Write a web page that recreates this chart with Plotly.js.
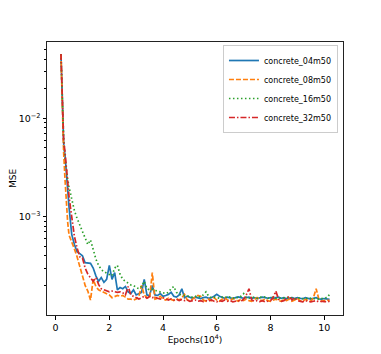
<!DOCTYPE html>
<html>
<head>
<meta charset="utf-8">
<script src="https://cdn.plot.ly/plotly-3.0.1.min.js"></script>
<style>
  html, body { margin: 0; padding: 0; background: #fff; }
  #chart { width: 381px; height: 354px; }
</style>
</head>
<body>
<div id="chart"></div>
<script>
// epochs in units of 10^4
let epochs = [0.2, 0.22, 0.25, 0.3, 0.35, 0.4, 0.45, 0.5,
  0.6, 0.7, 0.8, 0.9, 1.0,
  1.1, 1.2, 1.3, 1.4, 1.5, 1.6, 1.7, 1.8, 1.9, 2.0,
  2.1, 2.2, 2.3, 2.4, 2.5, 2.6, 2.7, 2.8, 2.9, 3.0,
  3.1, 3.2, 3.3, 3.4, 3.5, 3.6, 3.7, 3.8, 3.9, 4.0,
  4.1, 4.2, 4.3, 4.4, 4.5, 4.6, 4.7, 4.8, 4.9, 5.0,
  5.1, 5.2, 5.3, 5.4, 5.5, 5.6, 5.7, 5.8, 5.9, 6.0,
  6.1, 6.2, 6.3, 6.4, 6.5, 6.6, 6.7, 6.8, 6.9, 7.0,
  7.1, 7.2, 7.3, 7.4, 7.5, 7.6, 7.7, 7.8, 7.9, 8.0,
  8.1, 8.2, 8.3, 8.4, 8.5, 8.6, 8.7, 8.8, 8.9, 9.0,
  9.1, 9.2, 9.3, 9.4, 9.5, 9.6, 9.7, 9.8, 9.9, 10.0,
  10.1, 10.2];

// MSE values, in units of 1e-4
let mse04 = [450, 260, 115, 55, 42, 30, 19, 12.5,
  6.6, 5.2, 4.4, 4.2, 4.0,
  3.4, 3.4, 3.35, 3.0, 2.5, 2.2, 2.4, 2.15, 2.3, 3.2,
  2.3, 2.7, 1.8, 1.9, 1.85, 1.95, 1.72, 1.65, 1.8, 1.6,
  1.65, 1.7, 2.3, 1.6, 1.58, 2.0, 1.6, 1.58, 1.65, 1.55,
  1.58, 1.62, 1.7, 1.55, 1.52, 1.6, 1.85, 1.5, 1.55, 1.5,
  1.48, 1.52, 1.5, 1.47, 1.5, 1.52, 1.48, 1.5, 1.55, 1.62,
  1.55, 1.5, 1.48, 1.52, 1.5, 1.47, 1.5, 1.53, 1.5, 1.48,
  1.5, 1.52, 1.48, 1.5, 1.47, 1.5, 1.52, 1.5, 1.48, 1.5,
  1.47, 1.5, 1.52, 1.48, 1.5, 1.46, 1.49, 1.5, 1.47, 1.5,
  1.48, 1.46, 1.5, 1.48, 1.45, 1.48, 1.5, 1.46, 1.45, 1.47,
  1.45, 1.44];

let mse08 = [450, 250, 105, 45, 24, 13, 8.8, 6.5,
  5.6, 4.7, 3.9, 3.1, 2.5,
  2.0, 1.75, 1.42, 2.3, 1.95, 1.8, 1.75, 1.72, 1.65, 1.6,
  1.5, 1.55, 1.58, 1.55, 1.58, 1.52, 1.45, 1.45, 1.42, 1.45,
  1.55, 2.0, 1.6, 1.5, 1.48, 2.7, 1.45, 1.48, 1.55, 1.45,
  1.42, 1.48, 1.45, 1.4, 1.46, 1.42, 1.5, 1.62, 1.42, 1.4,
  1.45, 1.5, 1.58, 1.55, 1.42, 1.38, 1.45, 1.4, 1.5, 1.42,
  1.38, 1.45, 1.5, 1.42, 1.4, 1.48, 1.42, 1.38, 1.45, 1.4,
  1.45, 1.4, 1.38, 1.44, 1.5, 1.42, 1.4, 1.46, 1.4, 1.38,
  1.42, 1.45, 1.4, 1.38, 1.44, 1.4, 1.45, 1.38, 1.42, 1.48,
  1.4, 1.38, 1.44, 1.4, 1.38, 1.5, 1.85, 1.45, 1.38, 1.4,
  1.42, 1.4];

let mse16 = [450, 270, 125, 62, 40, 30, 24, 20,
  14.5, 11.5, 9.6, 8.2, 7.0,
  5.9, 5.2, 5.8, 4.7, 3.7, 3.2, 2.9, 2.75, 2.65, 2.55,
  2.5, 3.0, 3.2, 2.6, 2.3, 2.2, 2.1, 2.02, 2.0, 1.9,
  1.85, 1.95, 2.2, 1.85, 1.8, 1.82, 1.78, 1.75, 1.72, 1.7,
  1.65, 1.7, 1.85, 1.95, 1.7, 1.62, 1.6, 1.58, 1.55, 1.55,
  1.52, 1.55, 1.5, 1.55, 1.6, 1.72, 1.55, 1.5, 1.52, 1.5,
  1.48, 1.52, 1.5, 1.55, 1.5, 1.48, 1.52, 1.5, 1.55, 1.65,
  1.5, 1.48, 1.5, 1.52, 1.48, 1.5, 1.55, 1.5, 1.48, 1.5,
  1.52, 1.48, 1.5, 1.47, 1.5, 1.52, 1.48, 1.5, 1.46, 1.48,
  1.5, 1.47, 1.45, 1.5, 1.48, 1.46, 1.48, 1.45, 1.47, 1.48,
  1.5, 1.62];

let mse32 = [450, 270, 120, 60, 45, 32, 23, 16,
  10, 6.3, 4.8, 3.9, 3.8,
  3.0, 2.6, 2.4, 2.2, 2.4, 2.05, 1.85, 1.8, 1.75, 1.72,
  1.75, 1.72, 1.7, 1.72, 1.68, 1.6, 1.95, 1.6, 1.55, 1.5,
  1.45, 1.5, 1.55, 1.48, 1.55, 1.5, 1.52, 1.48, 1.45, 1.5,
  1.45, 1.42, 1.46, 1.42, 1.45, 1.4, 1.44, 1.4, 1.42, 1.38,
  1.4, 1.42, 1.38, 1.4, 1.37, 1.4, 1.38, 1.42, 1.38, 1.36,
  1.4, 1.38, 1.42, 1.38, 1.4, 1.36, 1.38, 1.4, 1.37, 1.45,
  1.6, 1.85, 1.42, 1.38, 1.4, 1.37, 1.4, 1.36, 1.38, 1.4,
  1.5, 1.75, 1.45, 1.38, 1.4, 1.48, 1.55, 1.42, 1.5, 1.4,
  1.38, 1.36, 1.4, 1.38, 1.36, 1.38, 1.4, 1.36, 1.38, 1.37,
  1.36, 1.38];

let seriesNames = ['concrete_04m50', 'concrete_08m50', 'concrete_16m50', 'concrete_32m50'];
let seriesData = [mse04, mse08, mse16, mse32];
let seriesColors = ['#1f77b4', '#ff7f0e', '#2ca02c', '#d62728'];
let seriesDash = ['solid', '5px,2px', '1.5px,2.5px', '6px,2px,1.5px,2px'];

let majorY = [1e-3, 1e-2];
let majorYText = ['10<sup>\u22123</sup>', '10<sup>\u22122</sup>'];
let minorY = [2e-4, 3e-4, 4e-4, 5e-4, 6e-4, 7e-4, 8e-4, 9e-4,
  2e-3, 3e-3, 4e-3, 5e-3, 6e-3, 7e-3, 8e-3, 9e-3,
  2e-2, 3e-2, 4e-2, 5e-2];

let traces = seriesData.map(function(vals, i) {
  return {
    x: epochs,
    y: vals.map(v => v * 1e-4),
    type: 'scatter',
    mode: 'lines',
    name: seriesNames[i],
    line: { color: seriesColors[i], width: 1.7, dash: seriesDash[i] }
  };
});

let layout = {
  width: 381,
  height: 354,
  margin: { l: 47, r: 38, t: 42, b: 39 },
  paper_bgcolor: '#fff',
  plot_bgcolor: '#fff',
  font: { family: 'DejaVu Sans, sans-serif', size: 9.5, color: '#000' },
  showlegend: true,
  legend: {
    x: 0.983, y: 0.989, xanchor: 'right', yanchor: 'top',
    bgcolor: '#fff', bordercolor: '#ccc', borderwidth: 1,
    itemwidth: 30, tracegroupgap: 0,
    font: { size: 8 }
  },
  xaxis: {
    range: [-0.32, 10.7],
    tickvals: [0, 2, 4, 6, 8, 10],
    ticks: 'outside', ticklen: 3.5, tickcolor: '#000',
    showgrid: false, zeroline: false,
    showline: true, mirror: true, linecolor: '#222', linewidth: 1,
    title: { text: 'Epochs(10<sup>4</sup>)', standoff: 4, font: { size: 9 } }
  },
  yaxis: {
    type: 'log',
    range: [-4.0, -1.225],
    tickmode: 'array', tickvals: majorY, ticktext: majorYText,
    ticks: 'outside', ticklen: 3.5, tickcolor: '#000',
    minor: { tickmode: 'array', tickvals: minorY, ticks: 'outside', ticklen: 2, tickcolor: '#000', showgrid: false },
    showgrid: false, zeroline: false,
    showline: true, mirror: true, linecolor: '#222', linewidth: 1,
    title: { text: 'MSE', standoff: 0, font: { size: 9 } }
  }
};

Plotly.newPlot('chart', traces, layout, { displayModeBar: false, staticPlot: true });
</script>
</body>
</html>
